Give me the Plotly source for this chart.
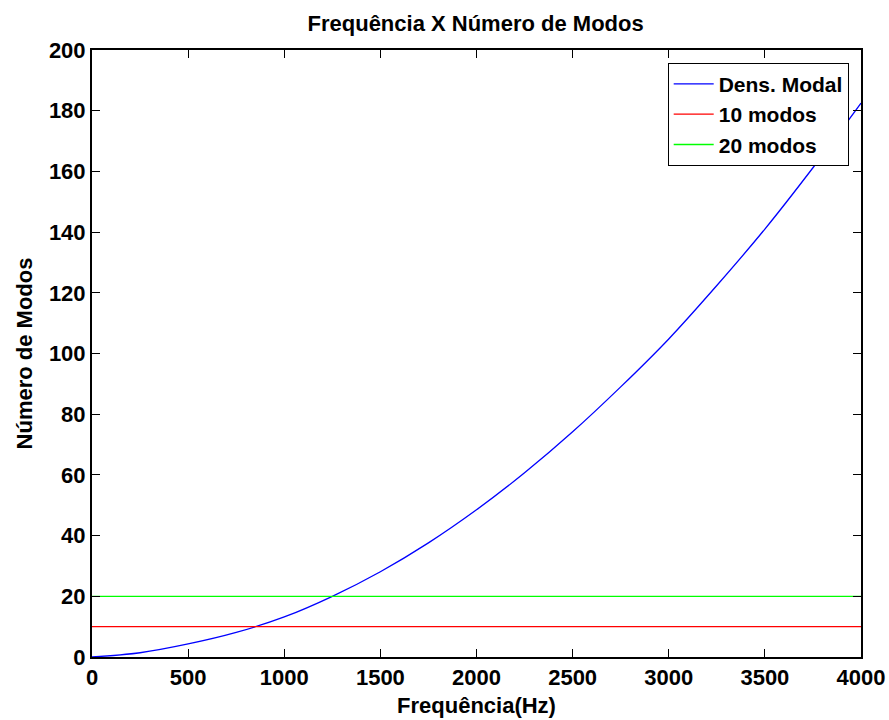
import plotly.graph_objects as go

freq = [0, 250, 500, 750, 1000, 1250, 1500, 1750, 2000, 2250, 2500, 2750, 3000, 3250, 3500, 3750, 4000]
modes = [0, 1.4, 4.3, 8.1, 13.2, 20.0, 28.1, 37.6, 48.5, 60.7, 74.2, 89.0, 104.8, 122.4, 141.0, 161.2, 182.5]
x_range = [0, 4000]
level10 = 10
level20 = 20
x_ticks = [0, 500, 1000, 1500, 2000, 2500, 3000, 3500, 4000]
y_ticks = [0, 20, 40, 60, 80, 100, 120, 140, 160, 180, 200]

FONT = "Liberation Sans"
fnt = dict(family=FONT, size=22, color="black", weight="bold")
lfnt = dict(family=FONT, size=21, color="black", weight="bold")

fig = go.Figure()
fig.add_trace(go.Scatter(x=freq, y=modes, mode="lines", name="Dens. Modal",
                         line=dict(color="#0000ff", width=1.3, shape="spline")))
fig.add_trace(go.Scatter(x=x_range, y=[level10, level10], mode="lines", name="10 modos",
                         line=dict(color="#ff0000", width=1.3)))
fig.add_trace(go.Scatter(x=x_range, y=[level20, level20], mode="lines", name="20 modos",
                         line=dict(color="#00ff00", width=1.3)))

axis_common = dict(showgrid=False, zeroline=False, showline=True, linecolor="black",
                   linewidth=2, mirror="ticks", ticks="inside", ticklen=8, tickwidth=1,
                   tickcolor="black", tickfont=fnt, automargin=False)

fig.update_layout(
    width=889, height=720,
    paper_bgcolor="white", plot_bgcolor="white",
    margin=dict(l=92, r=28, t=50, b=63),
    title=dict(text="Frequência X Número de Modos", x=0.535, xanchor="center",
               y=0.968, yanchor="middle", font=fnt),
    xaxis=dict(range=x_range, tickvals=x_ticks, **axis_common,
               title=dict(text="Frequência(Hz)", standoff=8, font=fnt)),
    yaxis=dict(range=[0, 200], tickvals=y_ticks, **axis_common,
               title=dict(text="Número de Modos", standoff=10, font=fnt)),
    legend=dict(x=0.984, y=0.979, xanchor="right", yanchor="top",
                bgcolor="white", bordercolor="black", borderwidth=1,
                font=lfnt, tracegroupgap=0, itemwidth=40),
    showlegend=True,
)

fig.write_html("out.html")
